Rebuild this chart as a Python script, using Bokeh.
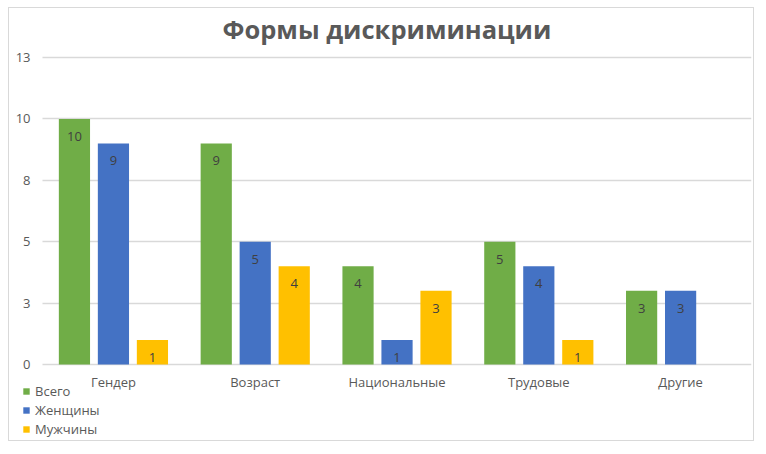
from bokeh.plotting import figure
from bokeh.models import ColumnDataSource, Range1d, FixedTicker, Legend, LegendItem
from bokeh.transform import dodge
from bokeh.core.properties import value
from bokeh.embed import file_html
from bokeh.resources import INLINE

categories = ["Гендер", "Возраст", "Национальные", "Трудовые", "Другие"]
series_names = ["Всего", "Женщины", "Мужчины"]
vsego = [10, 9, 4, 5, 3]
zhenshchiny = [9, 5, 1, 4, 3]
muzhchiny = [1, 4, 3, 1, 0]
series_colors = ["#70AD47", "#4472C4", "#FFC000"]
y_tick_values = [0, 2.5, 5, 7.5, 10, 12.5]
y_tick_labels = ["0", "3", "5", "8", "10", "13"]
title_text = "Формы дискриминации"

FONT = "Open Sans"
TXT = "#595959"

cat_x = [i + 0.5 for i in range(len(categories))]
series_values = [vsego, zhenshchiny, muzhchiny]
data = {"x": cat_x}
keys = ["s0", "s1", "s2"]
for k, vals in zip(keys, series_values):
    data[k] = vals
    data[k + "_lbl"] = [str(v) if v > 0 else "" for v in vals]
source = ColumnDataSource(data)

n = len(categories)
# frame extends around the category/value area (room for tick labels and legend)
x_start = -30 / 141.6
y_start = -12.5 * 74 / 307
y_end = 12.5 + 12.5 * 10 / 307

p = figure(
    x_range=Range1d(x_start, n),
    y_range=Range1d(y_start, y_end),
    width=746, height=434,
    output_backend="svg", toolbar_location=None,
    min_border_left=3, min_border_right=4, min_border_top=39, min_border_bottom=4,
    background_fill_color="white", border_fill_color="white",
)
p.styles = {"border": "1px solid #d9d9d9"}
p.margin = (7, 0, 0, 8)
p.outline_line_color = None

p.title.text = title_text
p.title.align = "left"
p.title.offset = 210
p.title.text_font = FONT
p.title.text_font_size = "25.5px"
p.title.text_font_style = "bold"
p.title.text_color = TXT
p.title.standoff = 3

offsets = [-0.275, 0.0, 0.275]
renderers = []
for k, off, col in zip(keys, offsets, series_colors):
    r = p.vbar(x=dodge("x", off), top=k, width=0.22,
               source=source, fill_color=col, line_color=None)
    renderers.append(r)
    p.text(x=dodge("x", off), y=k, text=k + "_lbl", source=source,
           text_align="center", text_baseline="top", y_offset=13,
           text_font=value(FONT), text_font_size="13px", text_color="#404040")

p.xgrid.grid_line_color = None
p.ygrid.grid_line_color = "#d9d9d9"
p.ygrid.grid_line_width = 1.3
g = p.ygrid[0]
if "cross_bounds" in g.properties():
    g.cross_bounds = (0, n)

p.yaxis.ticker = FixedTicker(ticks=y_tick_values)
p.yaxis.major_label_overrides = {v: l for v, l in zip(y_tick_values, y_tick_labels)}
p.xaxis.ticker = FixedTicker(ticks=cat_x)
p.xaxis.major_label_overrides = {v: c for v, c in zip(cat_x, categories)}
for ax in (p.xaxis[0], p.yaxis[0]):
    ax.fixed_location = 0
    ax.axis_line_color = None
    ax.major_tick_line_color = None
    ax.minor_tick_line_color = None
    ax.major_tick_out = 0
    ax.major_tick_in = 0
    ax.major_label_text_font = FONT
    ax.major_label_text_font_size = "13px"
    ax.major_label_text_color = TXT
p.yaxis.major_label_standoff = 12
p.xaxis.major_label_standoff = 8

legend = Legend(
    items=[LegendItem(label=nm, renderers=[r]) for nm, r in zip(series_names, renderers)],
    location=(10, 0), orientation="vertical",
    glyph_width=8, glyph_height=8, label_standoff=5, spacing=1,
    padding=0, margin=0, border_line_color=None, background_fill_alpha=0,
    label_text_font=FONT, label_text_font_size="13px", label_text_color=TXT,
    label_height=17,
)
p.add_layout(legend, "center")

open("out.html", "w").write(file_html(p, INLINE))
